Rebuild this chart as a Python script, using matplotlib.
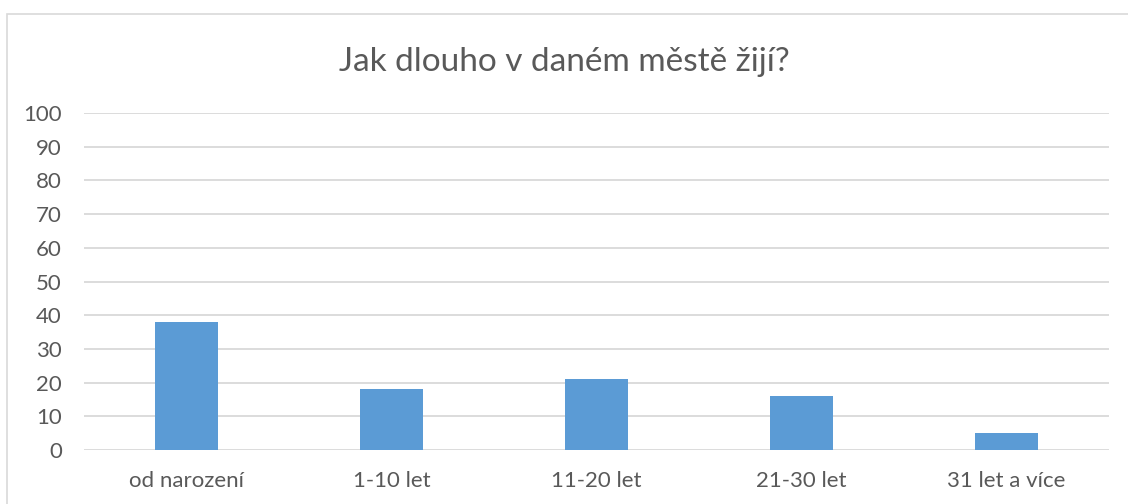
import matplotlib.pyplot as plt
from matplotlib.patches import Rectangle

# data
kategorie = ['od narození', '1-10 let', '11-20 let', '21-30 let', '31 let a více']
hodnoty = [38, 18, 21, 16, 5]
yticks = list(range(0, 101, 10))

plt.rcParams['font.family'] = ['Lato', 'DejaVu Sans']

fig = plt.figure(figsize=(11.28, 5.04), dpi=100)

# chart area border (Excel style), runs off right/bottom
fig.patches.append(Rectangle((7 / 1128, -0.1), 1.2, (504 - 14) / 504 + 0.1,
                             transform=fig.transFigure, fill=False,
                             edgecolor='#D9D9D9', linewidth=1.2))

ax = fig.add_axes([84 / 1128, 54 / 504, 1025 / 1128, 337 / 504])
x = range(len(kategorie))
ax.bar(x, hodnoty, width=0.31, color='#5B9BD5', zorder=3)

ax.set_xlim(-0.5, len(kategorie) - 0.5)
ax.set_ylim(0, 100)
ax.set_yticks(yticks)
ax.set_xticks(list(x))
ax.set_xticklabels(kategorie)
ax.grid(axis='y', color='#D9D9D9', linewidth=1.3, zorder=0)
for s in ax.spines.values():
    s.set_visible(False)
ax.tick_params(axis='both', length=0, labelsize=16, colors='#595959')
ax.tick_params(axis='y', pad=16)
ax.tick_params(axis='x', pad=15)

fig.text(0.5, 1 - 62 / 504, 'Jak dlouho v daném městě žijí?', ha='center', va='center',
         fontsize=24, color='#595959')

fig.savefig('out.png', dpi=100)
